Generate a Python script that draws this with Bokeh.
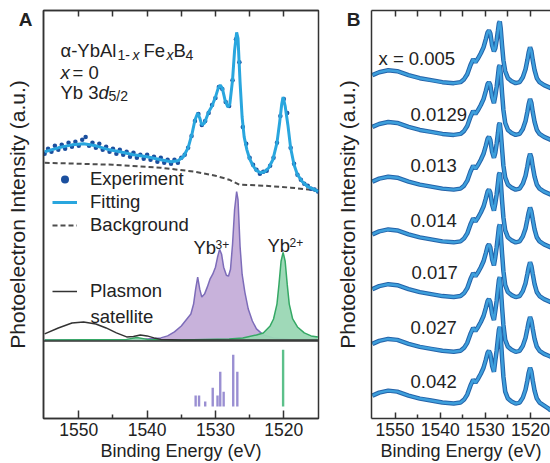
import numpy as np
from bokeh.plotting import figure
from bokeh.models import Range1d, LinearAxis, FixedTicker, Span, Label, Legend, LegendItem
from bokeh.layouts import row
from bokeh.embed import file_html
from bokeh.resources import INLINE

FONT = "Liberation Sans"
INK = "#222222"
AX = "#333333"

# ---------------- Panel A data (binding energy in eV, intensity a.u.) ----------------
exp_E = np.linspace(1555, 1515, 81)
exp_I = [188, 193, 190, 196, 192, 197, 193, 199, 195, 200,
         196, 202, 205, 196, 199, 194, 198, 192, 195, 190,
         193, 188, 192, 187, 190, 185, 189, 184, 187, 183,
         187, 182, 185, 180, 184, 179, 182, 178, 182, 179,
         184, 187, 194, 206, 221, 228, 217, 221, 229, 237,
         244, 255, 253, 240, 236, 262, 303, 280, 215, 198,
         184, 177, 172, 168, 170, 171, 176, 184, 199, 226,
         243, 229, 194, 178, 167, 162, 158, 156, 153, 152,
         150]

fit_E = [1555, 1553, 1551, 1549.3, 1547.5, 1545.5, 1544, 1542, 1540, 1538,
         1536.5, 1535.5, 1534.7, 1534, 1533.4, 1533, 1532.6, 1532.3, 1532, 1531.6,
         1531, 1530.5, 1530, 1529.6, 1529.3, 1529, 1528.6, 1528.2, 1527.9, 1527.5,
         1527.2, 1526.9, 1526.7, 1526.4, 1526.1, 1525.8, 1525.4, 1525, 1524.5, 1524,
         1523.4, 1522.8, 1522.2, 1521.6, 1521, 1520.6, 1520.3, 1520.1, 1519.8, 1519.4,
         1519, 1518.5, 1518, 1517.3, 1516.5, 1515.5, 1515]
fit_I = [190, 194, 197, 198, 196, 192, 190, 187, 185, 182,
         180, 181, 185, 194, 209, 222, 229, 224, 217, 219,
         230, 236, 245, 254, 257, 254, 242, 235, 238, 262,
         292, 310, 304, 260, 225, 205, 192, 183, 176, 171,
         169, 170, 174, 182, 199, 220, 238, 245, 236, 217,
         194, 177, 167, 160, 155, 152, 150]

bg_E = [1555, 1545, 1538, 1533, 1530, 1528, 1526.5, 1523, 1519, 1515]
bg_I = [179, 177, 174, 170, 166, 162, 157, 156, 154, 151]

yb3_E = [1555, 1545, 1541, 1538, 1537, 1536, 1535, 1534.3, 1533.6, 1533.2,
         1532.9, 1532.6, 1532.3, 1532, 1531.6, 1531.2, 1530.8, 1530.4, 1530, 1529.7,
         1529.4, 1529.1, 1528.8, 1528.4, 1528.1, 1527.8, 1527.5, 1527.2, 1526.9, 1526.7,
         1526.4, 1526.1, 1525.7, 1525.2, 1524.6, 1524, 1523, 1521.5, 1519, 1515]
yb3_I = [1, 1, 1.5, 3, 5, 9, 15, 21, 27, 37,
         52, 64, 52, 44, 47, 54, 62, 67, 74, 84,
         92, 87, 74, 66, 65, 72, 97, 132, 150, 142,
         95, 67, 49, 32, 20, 12, 6, 3, 1.5, 1]

yb2_E = [1555, 1543, 1541.5, 1540, 1535, 1528, 1526, 1524, 1523, 1522,
         1521.5, 1521, 1520.7, 1520.4, 1520.1, 1519.8, 1519.5, 1519.2, 1518.7, 1518,
         1517, 1516, 1515]
yb2_I = [1, 1.5, 3.5, 1.5, 1, 2, 3, 6, 8, 15,
         22, 37, 57, 80, 89, 80, 57, 37, 22, 14,
         8, 5, 4]

pl_E = [1555, 1553, 1551, 1549.3, 1547.5, 1546, 1544.5, 1543, 1542, 1541,
        1540, 1539, 1538, 1535, 1515]
pl_I = [7, 13, 18, 19, 17, 13, 8, 4, 4.5, 6, 5, 3, 1.5, 1, 1]

# calculated final-state multiplets (stick spectra)
stick3_E = [1532.9, 1532.4, 1531.5, 1530.4, 1529.7, 1529.3, 1528.8, 1527.4, 1526.8]
stick3_I = [11, 11, 5, 19, 11, 35, 15, 52, 35]
stick2_E = [1520.1]
stick2_I = [57]
STICK_BASE = -66

# ---------------- Panel B data ----------------
B_E = [1555, 1553.5, 1551.5, 1549.5, 1547, 1544.5, 1542, 1539.5, 1537, 1535.5,
       1534.7, 1534.0, 1533.3, 1532.7, 1532.2, 1531.6, 1531.0, 1530.4, 1529.9, 1529.5,
       1529.2, 1528.9, 1528.5, 1528.1, 1527.8, 1527.5, 1527.2, 1527.0, 1526.8, 1526.6,
       1526.3, 1526.0, 1525.6, 1525.0, 1524.2, 1523.3, 1522.4, 1521.7, 1521.1, 1520.7,
       1520.4, 1520.1, 1519.8, 1519.5, 1519.1, 1518.6, 1518.0, 1517.0, 1516.0, 1515.5]
B_x = ["x = 0.005", "0.0129", "0.013", "0.014", "0.017", "0.027", "0.042"]
B_c1 = [345, 348, 350, 349, 345, 342, 340, 338, 337, 338, 341, 346, 355, 361, 358, 362, 367, 373, 381, 388,
        390, 387, 375, 369, 372, 380, 390, 397, 399, 392, 375, 360, 349, 342, 339, 337, 338, 343, 351, 360,
        368, 373, 369, 360, 350, 342, 338, 335, 333, 332]
B_c2 = [293, 296, 298, 297, 293, 290, 288, 286, 285, 286, 289, 294, 303, 309, 306, 310, 315, 321, 329, 336,
        338, 335, 323, 317, 324, 333, 345, 353, 355, 347, 327, 310, 297, 290, 287, 285, 286, 291, 299, 308,
        316, 321, 317, 308, 298, 290, 286, 283, 281, 280]
B_c3 = [238, 241, 243, 242, 238, 235, 233, 231, 230, 231, 234, 239, 248, 254, 251, 255, 260, 266, 274, 281,
        283, 280, 268, 262, 267, 276, 287, 295, 297, 289, 271, 254, 242, 235, 232, 230, 231, 236, 244, 253,
        261, 266, 262, 253, 243, 235, 231, 228, 226, 225]
B_c4 = [185, 188, 190, 189, 185, 182, 180, 178, 177, 178, 181, 186, 195, 201, 198, 202, 207, 213, 221, 228,
        230, 227, 215, 209, 216, 225, 237, 245, 247, 239, 219, 202, 189, 182, 179, 177, 178, 183, 191, 200,
        207, 212, 208, 200, 190, 182, 178, 175, 173, 172]
B_c5 = [130, 133, 135, 134, 130, 127, 125, 123, 122, 123, 126, 131, 140, 146, 143, 147, 152, 158, 166, 173,
        175, 172, 160, 154, 162, 172, 184, 192, 195, 186, 166, 148, 134, 127, 124, 122, 123, 128, 136, 145,
        152, 157, 153, 145, 135, 127, 123, 120, 118, 117]
B_c6 = [75, 78, 80, 79, 75, 72, 70, 68, 67, 68, 71, 76, 85, 91, 88, 92, 97, 103, 111, 118,
        120, 117, 105, 99, 108, 118, 131, 139, 142, 133, 112, 94, 79, 72, 69, 67, 68, 73, 81, 90,
        97, 102, 98, 90, 80, 72, 68, 65, 63, 62]
B_c7 = [23, 26, 28, 27, 23, 20, 18, 16, 15, 16, 19, 24, 33, 39, 36, 40, 45, 51, 59, 66,
        68, 65, 53, 47, 58, 68, 81, 89, 92, 83, 61, 42, 27, 20, 17, 15, 16, 21, 29, 38,
        46, 51, 47, 38, 28, 20, 16, 13, 10, 8]
B_curves = [B_c1, B_c2, B_c3, B_c4, B_c5, B_c6, B_c7]

ticks = [1520, 1530, 1540, 1550]
minor = [1525, 1535, 1545]
top_ticks = [1520, 1525, 1530, 1535, 1540, 1545, 1550]


def eA(px):
    return 1550 - (px - 78.3) / 6.833


def eB(px):
    return 1550 - (px - 394.5) / 4.517


def style_bottom(ax, major_in, minor_in):
    ax.ticker = FixedTicker(ticks=ticks, minor_ticks=minor)
    ax.major_tick_in = major_in
    ax.major_tick_out = 0
    ax.minor_tick_in = minor_in
    ax.minor_tick_out = 0
    ax.axis_line_color = AX
    ax.axis_line_width = 1.5
    ax.major_tick_line_color = AX
    ax.major_tick_line_width = 1.5
    ax.minor_tick_line_color = AX
    ax.minor_tick_line_width = 1.5
    ax.major_label_text_font = FONT
    ax.major_label_text_font_size = "17.5px"
    ax.major_label_text_color = INK
    ax.major_label_standoff = 4
    ax.axis_label = "Binding Energy (eV)"
    ax.axis_label_text_font = FONT
    ax.axis_label_text_font_size = "18px"
    ax.axis_label_text_font_style = "normal"
    ax.axis_label_text_color = INK
    ax.axis_label_standoff = 2


def style_top(ax, tick_in):
    ax.ticker = FixedTicker(ticks=[], minor_ticks=top_ticks)
    ax.minor_tick_in = tick_in
    ax.minor_tick_out = 0
    ax.major_tick_out = 0
    ax.major_label_standoff = 0
    ax.axis_line_color = AX
    ax.axis_line_width = 1.5
    ax.minor_tick_line_color = AX
    ax.minor_tick_line_width = 1.5


def style_y(ax, letter, letter_y, title_standoff):
    # the panel letter is carried as the single tick label of the y axis
    ax.ticker = FixedTicker(ticks=[letter_y])
    ax.major_label_overrides = {letter_y: letter}
    ax.major_label_text_font = FONT
    ax.major_label_text_font_size = "19px"
    ax.major_label_text_font_style = "bold"
    ax.major_label_text_color = INK
    ax.major_label_standoff = 11
    ax.major_tick_in = 0
    ax.major_tick_out = 0
    ax.major_tick_line_color = None
    ax.minor_tick_out = 0
    ax.minor_tick_in = 0
    ax.minor_tick_line_color = None
    ax.axis_line_color = AX
    ax.axis_line_width = 1.5
    ax.axis_label = "Photoelectron Intensity (a.u.)"
    ax.axis_label_text_font = FONT
    ax.axis_label_text_font_size = "21px"
    ax.axis_label_text_font_style = "normal"
    ax.axis_label_text_color = INK
    ax.axis_label_standoff = title_standoff


def lab(p, x, y, text, size=18.5, style="normal", baseline="alphabetic"):
    p.add_layout(Label(x=x, y=y, text=text, text_font=FONT, text_font_size=f"{size}px",
                       text_font_style=style, text_baseline=baseline, text_color=INK))


# ---------------- Figure A ----------------
pA = figure(width=332, height=463, x_range=Range1d(eA(43), eA(318)), y_range=Range1d(-78, 332),
            output_backend="svg", toolbar_location=None,
            min_border_left=43, min_border_right=14, min_border_top=10, min_border_bottom=43)
pA.grid.visible = False
pA.outline_line_color = AX
pA.outline_line_width = 1.5
style_bottom(pA.xaxis[0], 8, 4)
topA = LinearAxis()
pA.add_layout(topA, "above")
style_top(topA, 6)
style_y(pA.yaxis[0], "A", 342 - 19, -13)

pA.add_layout(Span(location=0, dimension="width", line_color=AX, line_width=1.5))

pA.varea(x=yb3_E, y1=0, y2=yb3_I, fill_color="#c8b2db", fill_alpha=1)
pA.line(yb3_E, yb3_I, line_color="#7d6cb9", line_width=1.5)
pA.varea(x=yb2_E, y1=0, y2=yb2_I, fill_color="#9ad7b4", fill_alpha=0.95)
pA.line(yb2_E, yb2_I, line_color="#35a865", line_width=1.5)
r_pl = pA.line(pl_E, pl_I, line_color="#333333", line_width=1.5)

pA.vbar(x=stick3_E, bottom=STICK_BASE, top=[STICK_BASE + h for h in stick3_I], width=0.35,
        fill_color="#9a8fd2", line_color=None)
pA.vbar(x=stick2_E, bottom=STICK_BASE, top=[STICK_BASE + h for h in stick2_I], width=0.35,
        fill_color="#5cc08a", line_color=None)

r_bg = pA.line(bg_E, bg_I, line_color="#4d4d4d", line_width=2, line_dash="5 3")
r_exp = pA.scatter(exp_E, exp_I, size=4.5, fill_color="#1b4f9e", line_color=None)
r_fit = pA.line(fit_E, fit_I, line_color="#29a6de", line_width=3)

legA = Legend(items=[LegendItem(label="Experiment", renderers=[r_exp]),
                     LegendItem(label="Fitting", renderers=[r_fit]),
                     LegendItem(label="Background", renderers=[r_bg])],
              location=(9, 182), glyph_width=25, glyph_height=20, label_height=20,
              label_standoff=13, spacing=1, padding=0, margin=0,
              border_line_color=None, background_fill_alpha=0,
              label_text_font=FONT, label_text_font_size="18.5px", label_text_color=INK)
pA.add_layout(legA)
legP = Legend(items=[LegendItem(label="Plasmon", renderers=[r_pl])],
              location=(9, 116), glyph_width=25, glyph_height=20, label_height=20,
              label_standoff=13, spacing=1, padding=0, margin=0,
              border_line_color=None, background_fill_alpha=0,
              label_text_font=FONT, label_text_font_size="18.5px", label_text_color=INK)
pA.add_layout(legP)
lab(pA, eA(90), 342 - 317, "satellite")

# composition annotations
lab(pA, eA(60), 342 - 50, "α-YbAl")
lab(pA, eA(117), 342 - 55, "1-", 14)
lab(pA, eA(132), 342 - 55, "x", 14, "italic")
lab(pA, eA(143), 342 - 50, "Fe")
lab(pA, eA(166), 342 - 55, "x", 14, "italic")
lab(pA, eA(173), 342 - 50, "B")
lab(pA, eA(185), 342 - 55, "4", 14)
lab(pA, eA(60), 342 - 72, "x", 18.5, "italic")
lab(pA, eA(72), 342 - 72, "= 0")
lab(pA, eA(60), 342 - 92, "Yb 3")
lab(pA, eA(98), 342 - 92, "d", 18.5, "italic")
lab(pA, eA(108), 342 - 96, "5/2", 14)
lab(pA, eA(193), 342 - 248, "Yb")
lab(pA, eA(215), 342 - 245, "3+", 12)
lab(pA, eA(267), 342 - 246, "Yb")
lab(pA, eA(289), 342 - 243, "2+", 12)

# ---------------- Figure B ----------------
pB = figure(width=218, height=463, x_range=Range1d(eB(371), eB(550)), y_range=Range1d(0, 410),
            output_backend="svg", toolbar_location=None,
            min_border_left=39, min_border_right=0, min_border_top=10, min_border_bottom=43)
pB.grid.visible = False
pB.outline_line_color = None
style_bottom(pB.xaxis[0], 6, 4)
topB = LinearAxis()
pB.add_layout(topB, "above")
style_top(topB, 6)
style_y(pB.yaxis[0], "B", 420 - 19, -15)

for c in B_curves:
    pB.line(B_E, c, line_color="#2463a9", line_width=4.5)
    pB.line(B_E, c, line_color="#3d9fdc", line_width=2.5)

label_px = [378, 410, 410, 410, 411, 410, 410]
label_py = [58, 115, 166, 221, 273, 329, 383]
for t, px, py in zip(B_x, label_px, label_py):
    lab(pB, eB(px), 420 - py, t, 18.5, "normal", "middle")

layout = row(pA, pB)
open("out.html", "w").write(file_html(layout, INLINE))
